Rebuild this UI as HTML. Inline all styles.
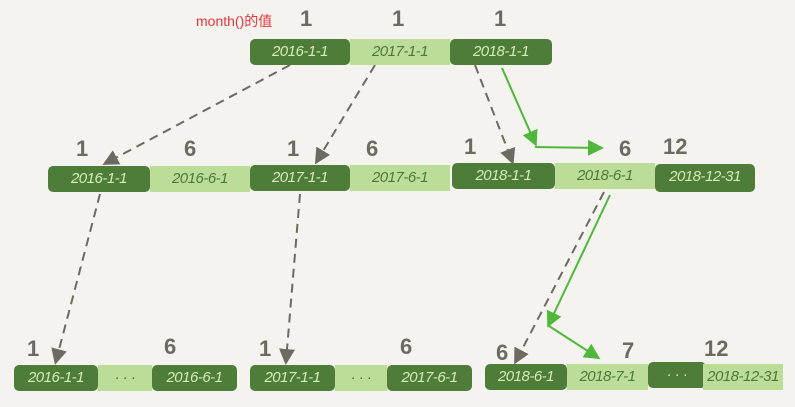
<!DOCTYPE html><html><head><style>
body{margin:0;width:795px;height:407px;background:#f4f3ef;position:relative;overflow:hidden;font-family:"Liberation Sans",sans-serif}
.b{position:absolute;height:26px;line-height:26px;text-align:center;font-size:15px;font-style:italic;letter-spacing:-0.5px}
.d{background:#4e7d3a;color:#d4ecb8;border-radius:5px}
.l{background:#bcdd98;color:#4b7a36}
.n{position:absolute;font-size:22px;color:#6e6a62;font-weight:bold}
</style></head><body>
<svg width="795" height="407" style="position:absolute;left:0;top:0">
<defs><marker id="g" markerWidth="8" markerHeight="8" refX="6" refY="4" orient="auto"><path d="M0,0L8,4L0,8z" fill="#6e6a62"/></marker>
<marker id="gr" markerWidth="8" markerHeight="8" refX="6" refY="4" orient="auto"><path d="M0,0L8,4L0,8z" fill="#4fb83a"/></marker></defs>
<g stroke="#6e6a62" stroke-width="2" stroke-dasharray="9,6" fill="none" marker-end="url(#g)">
<line x1="290" y1="65" x2="106" y2="163"/><line x1="375" y1="65" x2="317" y2="161"/><line x1="475" y1="65" x2="512" y2="161"/>
<line x1="100" y1="194" x2="56" y2="361"/><line x1="300" y1="194" x2="286" y2="361"/><line x1="604" y1="192" x2="516" y2="361"/></g>
<g stroke="#4fb83a" stroke-width="2" fill="none">
<polyline points="502,68 535,143" marker-end="url(#gr)"/><polyline points="535,147 600,148" marker-end="url(#gr)"/>
<polyline points="610,195 549,324" marker-end="url(#gr)"/><polyline points="549,326 597,357" marker-end="url(#gr)"/></g>
</svg>
<div style="position:absolute;left:196px;top:11px;color:#e8343a;font-size:14px;font-family:'Liberation Sans','Noto Sans CJK SC',sans-serif">month()的值</div>
<div class="b d" style="left:250px;top:39px;width:100px">2016-1-1</div>
<div class="b l" style="left:350px;top:39px;width:100px">2017-1-1</div>
<div class="b d" style="left:450px;top:39px;width:102px">2018-1-1</div>
<div class="n" style="left:300px;top:6px">1</div><div class="n" style="left:392px;top:6px">1</div><div class="n" style="left:494px;top:6px">1</div>
<div class="b d" style="left:48px;top:166px;width:102px">2016-1-1</div>
<div class="b l" style="left:150px;top:166px;width:100px">2016-6-1</div>
<div class="b d" style="left:250px;top:165px;width:100px">2017-1-1</div>
<div class="b l" style="left:350px;top:165px;width:100px">2017-6-1</div>
<div class="b d" style="left:452px;top:163px;width:103px">2018-1-1</div>
<div class="b l" style="left:555px;top:163px;width:100px">2018-6-1</div>
<div class="b d" style="left:655px;top:164px;width:100px;height:28px">2018-12-31</div>
<div class="n" style="left:76px;top:136px">1</div><div class="n" style="left:184px;top:136px">6</div><div class="n" style="left:287px;top:136px">1</div><div class="n" style="left:366px;top:136px">6</div><div class="n" style="left:464px;top:134px">1</div><div class="n" style="left:619px;top:136px">6</div><div class="n" style="left:663px;top:134px">12</div>
<div class="b d" style="left:14px;top:365px;width:84px">2016-1-1</div>
<div class="b l" style="left:98px;top:365px;width:54px">· · ·</div>
<div class="b d" style="left:152px;top:365px;width:85px">2016-6-1</div>
<div class="b d" style="left:250px;top:365px;width:85px">2017-1-1</div>
<div class="b l" style="left:335px;top:365px;width:52px">· · ·</div>
<div class="b d" style="left:387px;top:365px;width:85px">2017-6-1</div>
<div class="b d" style="left:485px;top:364px;width:82px">2018-6-1</div>
<div class="b l" style="left:567px;top:364px;width:81px">2018-7-1</div>
<div class="b d" style="left:648px;top:362px;width:58px">· · ·</div>
<div class="b l" style="left:703px;top:364px;width:80px">2018-12-31</div>
<div class="n" style="left:27px;top:336px">1</div><div class="n" style="left:164px;top:334px">6</div><div class="n" style="left:259px;top:336px">1</div><div class="n" style="left:400px;top:334px">6</div><div class="n" style="left:496px;top:340px">6</div><div class="n" style="left:622px;top:338px">7</div><div class="n" style="left:704px;top:336px">12</div>
</body></html>
